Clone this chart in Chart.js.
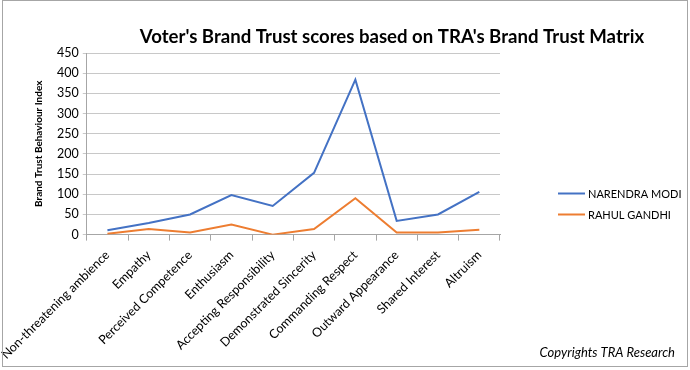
<!DOCTYPE html>
<html>
<head>
<meta charset="utf-8">
<script src="https://cdn.jsdelivr.net/npm/chart.js@4/dist/chart.umd.min.js"></script>
<style>
  body { margin: 0; background: #fff; }
  #wrap { width: 690px; height: 370px; position: relative; }
</style>
</head>
<body>
<div id="wrap"><canvas id="myChart" width="690" height="370"></canvas></div>
<script>
var categories = ['Non-threatening ambience', 'Empathy', 'Perceived Competence', 'Enthusiasm',
  'Accepting Responsibility', 'Demonstrated Sincerity', 'Commanding Respect',
  'Outward Appearance', 'Shared Interest', 'Altruism'];
var modiScores = [11, 29, 50, 98, 71, 153, 384, 34, 50, 106];
var gandhiScores = [2, 14, 5, 25, 0, 14, 90, 5, 5, 12];
var yTicks = [0, 50, 100, 150, 200, 250, 300, 350, 400, 450];

var fontFam = 'Lato, "Open Sans", sans-serif';

// title, legend, copyright note and frame, Excel style
var extras = {
  id: 'extras',
  afterDraw: function (chart) {
    var ctx = chart.ctx;
    ctx.save();
    ctx.strokeStyle = '#a6a6a6';
    ctx.lineWidth = 1;
    ctx.strokeRect(2.5, 0.5, 685, 366);
    ctx.fillStyle = '#000';
    ctx.font = 'bold 18.6px ' + fontFam;
    ctx.textAlign = 'center';
    ctx.textBaseline = 'middle';
    ctx.fillText("Voter's Brand Trust scores based on TRA's Brand Trust Matrix", 392, 37);

    // legend
    ctx.font = '11px ' + fontFam;
    ctx.textAlign = 'left';
    chart.data.datasets.forEach(function (ds, i) {
      var y = 193.5 + i * 21;
      ctx.strokeStyle = ds.borderColor;
      ctx.lineWidth = 2;
      ctx.beginPath();
      ctx.moveTo(558, y);
      ctx.lineTo(585, y);
      ctx.stroke();
      ctx.fillStyle = '#000';
      ctx.fillText(ds.label, 588, y + 0.5);
    });

    ctx.font = 'italic 13px ' + fontFam;
    ctx.textAlign = 'right';
    ctx.fillText('Copyrights TRA Research', 675, 353);
    ctx.restore();
  }
};

new Chart(document.getElementById('myChart'), {
  type: 'line',
  data: {
    labels: categories,
    datasets: [
      { label: 'NARENDRA MODI', data: modiScores, borderColor: '#4472c4', backgroundColor: '#4472c4',
        borderWidth: 2, pointRadius: 0, tension: 0 },
      { label: 'RAHUL GANDHI', data: gandhiScores, borderColor: '#ed7d31', backgroundColor: '#ed7d31',
        borderWidth: 2, pointRadius: 0, tension: 0 }
    ]
  },
  options: {
    responsive: false,
    animation: false,
    layout: { padding: { top: 53, left: 25, right: 190, bottom: 1 } },
    plugins: {
      title: { display: false },
      tooltip: { enabled: false },
      legend: { display: false }
    },
    scales: {
      x: {
        offset: true,
        afterFit: function (axis) { axis.paddingLeft = 0; },
        grid: { drawOnChartArea: false, offset: true, tickLength: 6, color: '#a6a6a6' },
        border: { color: '#a6a6a6' },
        ticks: { maxRotation: 45, minRotation: 45, color: '#000', font: { family: fontFam, size: 12.5 }, padding: 7 }
      },
      y: {
        min: 0, max: 450,
        afterBuildTicks: function (axis) { axis.ticks = yTicks.map(function (v) { return { value: v }; }); },
        grid: { color: '#c8c8c8', tickLength: 4 },
        border: { color: '#a6a6a6' },
        ticks: { color: '#000', font: { family: fontFam, size: 12.5 }, padding: 4 },
        title: { display: true, text: 'Brand Trust Behaviour Index', color: '#000',
          font: { family: fontFam, size: 10, weight: 'bold' }, padding: 8 }
      }
    }
  },
  plugins: [extras]
});
</script>
</body>
</html>
